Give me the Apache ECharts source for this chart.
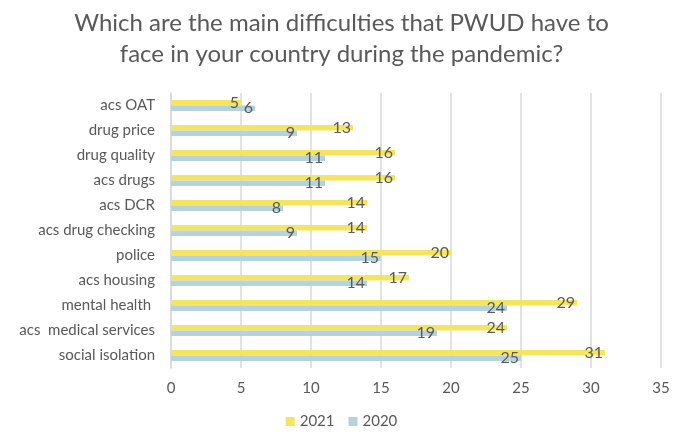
<!DOCTYPE html>
<html><head><meta charset="utf-8">
<script src="https://cdn.jsdelivr.net/npm/echarts@6/dist/echarts.min.js"></script>
<style>html,body{margin:0;padding:0;background:#fff}#c{width:683px;height:437px}</style>
</head><body><div id="c"></div>
<script>
const categories = ["acs OAT","drug price","drug quality","acs drugs","acs DCR","acs drug checking","police","acs housing","mental health ","acs  medical services","social isolation"];
const values2021 = [5,13,16,16,14,14,20,17,29,24,31];
const values2020 = [6,9,11,11,8,9,15,14,24,19,25];
const xTicks = [0,5,10,15,20,25,30,35];
const FONT = 'Lato, "Open Sans", sans-serif';
const chart = echarts.init(document.getElementById('c'));
const lbl = {show:true, position:'insideRight', distance:2, color:'#595959', fontSize:16, fontFamily:FONT};
chart.setOption({
  animation:false,
  title:{text:'Which are the main difficulties that PWUD have to\nface in your country during the pandemic?', left:'center', top:3,
    textStyle:{fontFamily:FONT, fontSize:24, fontWeight:'normal', color:'#595959', lineHeight:31}},
  legend:{bottom:3, left:'center', itemWidth:9, itemHeight:9, itemGap:14, icon:'rect',
    textStyle:{fontFamily:FONT, fontSize:15, color:'#595959'}},
  grid:{left:171, right:22, top:93, bottom:69},
  xAxis:{type:'value', min:xTicks[0], max:xTicks[xTicks.length-1], interval:5,
    axisLine:{show:false}, axisTick:{show:false},
    axisLabel:{color:'#595959', fontFamily:FONT, fontSize:15, margin:13},
    splitLine:{lineStyle:{color:'#d9d9d9', width:1.5}}},
  yAxis:{type:'category', data:categories, inverse:true,
    axisLine:{lineStyle:{color:'#d9d9d9', width:1.5}}, axisTick:{show:false},
    axisLabel:{color:'#595959', fontFamily:FONT, fontSize:15, margin:16}},
  series:[
    {name:'2021', type:'bar', data:values2021, barWidth:5.5, barGap:'0%', itemStyle:{color:'#F4E561'}, label:lbl},
    {name:'2020', type:'bar', data:values2020, barWidth:5.5, barGap:'0%', itemStyle:{color:'#B6D3DD'}, label:lbl}
  ]
});
</script></body></html>
